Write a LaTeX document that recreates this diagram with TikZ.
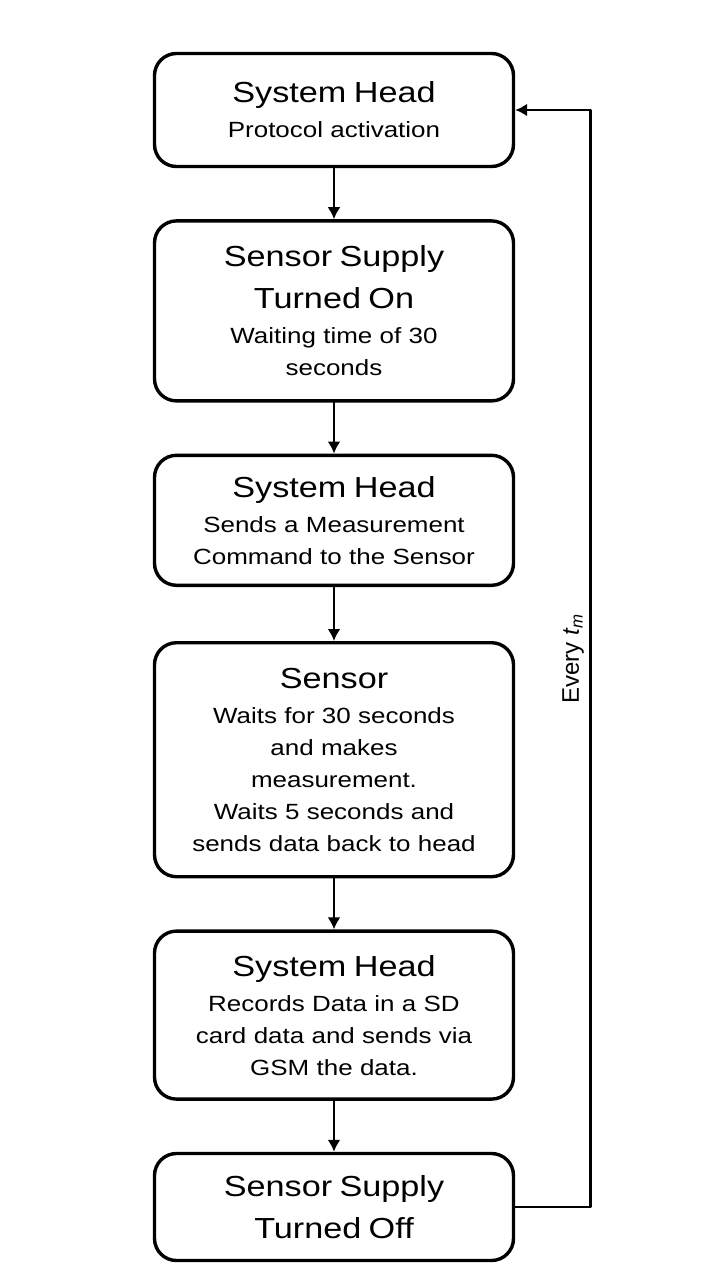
\documentclass[tikz,border=0pt]{standalone}
\usepackage{fontspec}
\setmainfont{Liberation Sans}[FakeStretch=1.18]
\newfontfamily\looplabelfont{Liberation Sans}
\usepackage{tikz}
\tikzset{>=latex}
\usetikzlibrary{arrows.meta, positioning}
\newcommand\steptitle[1]{{\fontsize{29}{32}\selectfont #1}}

\begin{document}
\begin{tikzpicture}[x=1pt, y=1pt, node distance=51pt,
                line cap=round, line join=round,
                stepbox/.style={draw, line width=3.4pt, rounded corners=22pt,
                    minimum width=359pt, text width=350pt, align=center,
                    font=\fontsize{22}{32}\selectfont, inner sep=0pt},
                flow/.style={line width=2.8pt, -{Latex[length=12pt,width=13pt]}}]
                \useasboundingbox (0,0) rectangle (720,-1280);

                % the protocol steps
                \node[stepbox, minimum height=113pt] (head1) at (334,-110)
                    {\steptitle{System Head}\\[3pt] Protocol activation};
                \node[stepbox, minimum height=180pt, below=of head1] (supplyon)
                    {\steptitle{Sensor Supply}\\[10pt] \steptitle{Turned On}\\[3pt]
                     Waiting time of 30\\ seconds};
                \node[stepbox, minimum height=130pt, below=of supplyon] (head2)
                    {\steptitle{System Head}\\[3pt] Sends a Measurement\\ Command to the Sensor};
                \node[stepbox, minimum height=234pt, below=54pt of head2] (sensor)
                    {\steptitle{Sensor}\\[3pt] Waits for 30 seconds\\ and makes\\ measurement.\\
                     Waits 5 seconds and\\ sends data back to head};
                \node[stepbox, minimum height=168pt, below=of sensor] (head3)
                    {\steptitle{System Head}\\[3pt] Records Data in a SD\\ card data and sends via\\ GSM the data.};
                \node[stepbox, minimum height=107pt, below=of head3] (supplyoff)
                    {\steptitle{Sensor Supply}\\[10pt] \steptitle{Turned Off}};

                % connectors
                \foreach \a/\b in {head1/supplyon, supplyon/head2, head2/sensor,
                                   sensor/head3, head3/supplyoff}{
                    \draw[flow] (\a) -- (\b);
                }

                % loop back
                \draw[flow] (supplyoff.east) -- ++(75,0) |- (head1.east)
                    node[pos=0.25, rotate=90, anchor=south, inner sep=5pt,
                         font=\looplabelfont\fontsize{24}{28}\selectfont]
                    {Every \textit{t}\textsubscript{\textit{m}}};

            \end{tikzpicture}
\end{document}
